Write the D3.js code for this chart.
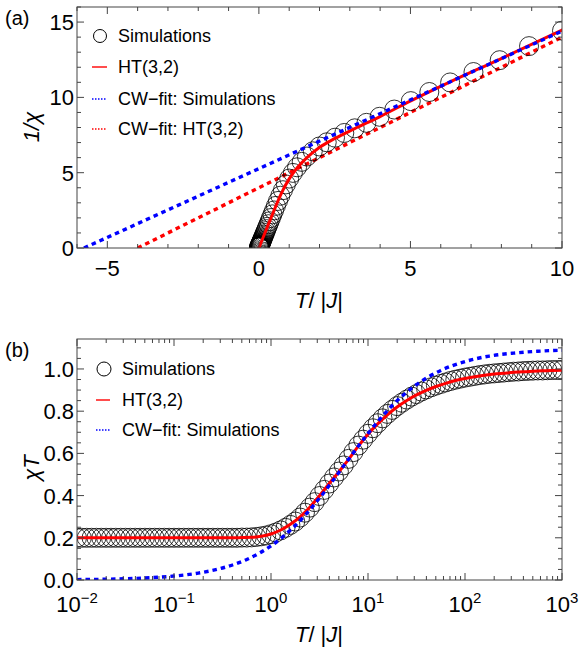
<!DOCTYPE html>
<html><head><meta charset="utf-8">
<script src="https://cdn.jsdelivr.net/npm/d3@7"></script>
<style>
body{margin:0;background:#fff}
text{font-family:"Liberation Sans",Arial,Helvetica,sans-serif;fill:#000}
</style>
</head><body>
<svg id="chart" width="582" height="650"></svg>
<script>
// ---------------- DATA ----------------
// simulation temperatures: 20 points per decade, log10(T) from -2 to 3
const simLogT = d3.range(-40, 61).map(k => k / 20);
// chi*T from the simulations
const simChiT = [
  0.200,0.200,0.200,0.200,0.200,0.200,0.200,0.200,0.200,0.200,
  0.200,0.200,0.200,0.200,0.200,0.200,0.200,0.200,0.200,0.200,
  0.200,0.200,0.200,0.200,0.200,0.200,0.200,0.200,0.200,0.200,
  0.200,0.200,0.200,0.200,0.201,0.201,0.202,0.204,0.207,0.211,
  0.217,0.225,0.235,0.247,0.261,0.277,0.296,0.319,0.343,0.369,
  0.398,0.427,0.457,0.486,0.514,0.543,0.574,0.606,0.637,0.665,
  0.693,0.719,0.743,0.766,0.787,0.806,0.824,0.840,0.855,0.869,
  0.881,0.893,0.903,0.913,0.921,0.929,0.936,0.943,0.949,0.954,
  0.959,0.963,0.967,0.971,0.974,0.977,0.979,0.981,0.983,0.985,
  0.987,0.988,0.990,0.991,0.992,0.993,0.993,0.994,0.995,0.995,
  0.996
];
// HT(3,2) curve, log10(T) in steps of 0.1
const htLogT = d3.range(-20, 31).map(k => k / 10);
const htChiT = [
  0.200,0.200,0.200,0.200,0.200,0.200,0.200,0.200,0.200,0.200,
  0.200,0.200,0.200,0.200,0.200,0.200,0.200,0.201,0.202,0.207,
  0.218,0.237,0.264,0.299,0.345,0.399,0.457,0.513,0.572,0.634,
  0.691,0.740,0.783,0.820,0.851,0.877,0.899,0.917,0.932,0.945,
  0.955,0.963,0.970,0.976,0.980,0.984,0.987,0.989,0.991,0.993,
  0.994
];
// Curie-Weiss fit to simulations, chi*T, log10(T) in steps of 0.25
const cwLogT = [-2,-1.75,-1.5,-1.25,-1,-0.75,-0.5,-0.25,0,0.25,0.5,0.75,1,1.25,1.5,1.75,2,2.25,2.5,2.75,3];
const cwChiT = [0.0019,0.0034,0.0060,0.0106,0.0187,0.0327,0.0569,0.0973,0.1617,0.258,0.388,0.541,0.694,0.827,0.926,0.993,1.035,1.061,1.075,1.084,1.089];
// Curie-Weiss lines in panel (a): 1/chi vs T
const cwSimT = [-5.77, 10];
const cwSimInv = [0, 14.4];
const cwHtT = [-4.0, 10];
const cwHtInv = [0, 14.0];
// tick labels
const aXTicks = [-5, 0, 5, 10];
const aYTicks = [0, 5, 10, 15];
const bXTickExp = [-2, -1, 0, 1, 2, 3];
const bYTicks = [0, 0.2, 0.4, 0.6, 0.8, 1.0];
const legendA = ["Simulations", "HT(3,2)", "CW\u2212fit: Simulations", "CW\u2212fit: HT(3,2)"];
const legendB = ["Simulations", "HT(3,2)", "CW\u2212fit: Simulations"];

// ---------------- LAYOUT ----------------
const svg = d3.select("#chart");
const L = 77, R = 562;
const A = {top: 7, bottom: 248};
const B = {top: 339, bottom: 580};
const RED = "#ff0000", BLUE = "#0000ff";
const FRAME = "#444";

function frameTicks(g, scale, orient, vals, size, x0, y0) {
  vals.forEach(v => {
    const p = scale(v);
    if (orient === "bottom") g.append("line").attr("x1", p).attr("x2", p).attr("y1", y0).attr("y2", y0 - size);
    if (orient === "top") g.append("line").attr("x1", p).attr("x2", p).attr("y1", y0).attr("y2", y0 + size);
    if (orient === "left") g.append("line").attr("y1", p).attr("y2", p).attr("x1", x0).attr("x2", x0 + size);
    if (orient === "right") g.append("line").attr("y1", p).attr("y2", p).attr("x1", x0).attr("x2", x0 - size);
  });
}

// ---------------- PANEL A ----------------
const xa = d3.scaleLinear().domain([-6, 10]).range([L, R]);
const ya = d3.scaleLinear().domain([0, 16]).range([A.bottom, A.top]);

svg.append("clipPath").attr("id", "clipA").append("rect")
  .attr("x", L).attr("y", A.top).attr("width", R - L).attr("height", A.bottom - A.top);
const ga = svg.append("g").attr("clip-path", "url(#clipA)");

const lineA = d3.line().x(d => xa(d[0])).y(d => ya(d[1]));
// CW fit to HT (red dotted)
ga.append("path").datum(cwHtT.map((t, i) => [t, cwHtInv[i]]))
  .attr("d", lineA).attr("fill", "none").attr("stroke", RED).attr("stroke-width", 3.4).attr("stroke-dasharray", "4.5,4");

// simulation circles
const simA = simLogT.map((lt, i) => { const T = Math.pow(10, lt); return [T, T / simChiT[i]]; })
  .filter(d => d[0] <= 11);
ga.selectAll("circle.sim").data(simA).join("circle")
  .attr("cx", d => xa(d[0])).attr("cy", d => ya(d[1])).attr("r", 9.5)
  .attr("fill", "none").attr("stroke", "#000").attr("stroke-width", 0.8);

// HT solid
const htA = [[0, 0]].concat(htLogT.map((lt, i) => { const T = Math.pow(10, lt); return [T, T / htChiT[i]]; })
  .filter(d => d[0] <= 13));
ga.append("path").datum(htA)
  .attr("d", d3.line().x(d => xa(d[0])).y(d => ya(d[1])).curve(d3.curveMonotoneX))
  .attr("fill", "none").attr("stroke", RED).attr("stroke-width", 3);

// CW fit to simulations (blue dotted) on top
ga.append("path").datum(cwSimT.map((t, i) => [t, cwSimInv[i]]))
  .attr("d", lineA).attr("fill", "none").attr("stroke", BLUE).attr("stroke-width", 3.4).attr("stroke-dasharray", "4.5,4");

// frame A
const fa = svg.append("g").attr("stroke", FRAME).attr("stroke-width", 1);
fa.append("rect").attr("x", L).attr("y", A.top).attr("width", R - L).attr("height", A.bottom - A.top).attr("fill", "none");
const aXMinor = d3.range(-6, 11).filter(v => aXTicks.indexOf(v) < 0);
const aYMinor = d3.range(0, 17).filter(v => aYTicks.indexOf(v) < 0);
frameTicks(fa, xa, "bottom", aXTicks, 7, 0, A.bottom);
frameTicks(fa, xa, "bottom", aXMinor, 4, 0, A.bottom);
frameTicks(fa, xa, "top", aXTicks, 7, 0, A.top);
frameTicks(fa, xa, "top", aXMinor, 4, 0, A.top);
frameTicks(fa, ya, "left", aYTicks, 7, L, 0);
frameTicks(fa, ya, "left", aYMinor, 4, L, 0);
frameTicks(fa, ya, "right", aYTicks, 7, R, 0);
frameTicks(fa, ya, "right", aYMinor, 4, R, 0);

svg.append("g").selectAll("text").data(aXTicks).join("text")
  .attr("x", d => xa(d)).attr("y", 276).attr("text-anchor", "middle").attr("font-size", 22)
  .text(d => d < 0 ? "\u2212" + Math.abs(d) : d);
svg.append("g").selectAll("text").data(aYTicks).join("text")
  .attr("x", 74).attr("y", d => ya(d)).attr("dy", "0.36em").attr("text-anchor", "end").attr("font-size", 22)
  .text(d => d);

// axis titles A
const tA = svg.append("text").attr("x", 319).attr("y", 308).attr("text-anchor", "middle").attr("font-size", 22);
tA.append("tspan").attr("font-style", "italic").text("T");
tA.append("tspan").text("/ |");
tA.append("tspan").attr("font-style", "italic").text("J");
tA.append("tspan").text("|");
const yA = svg.append("text").attr("transform", "translate(39,127) rotate(-90)").attr("text-anchor", "middle").attr("font-size", 22).attr("font-style", "italic");
yA.append("tspan").text("1/");
yA.append("tspan").text("\u03c7");
svg.append("text").attr("x", 5).attr("y", 25).attr("font-size", 20).text("(a)");

// legend A
const legA = svg.append("g");
const legAy = [36, 67, 99, 129];
legA.append("circle").attr("cx", 100).attr("cy", legAy[0]).attr("r", 6.5).attr("fill", "none").attr("stroke", "#000").attr("stroke-width", 1);
legA.append("line").attr("x1", 92).attr("x2", 107).attr("y1", legAy[1]).attr("y2", legAy[1]).attr("stroke", RED).attr("stroke-width", 1.4);
legA.append("line").attr("x1", 92).attr("x2", 107).attr("y1", legAy[2]).attr("y2", legAy[2]).attr("stroke", BLUE).attr("stroke-width", 1.4).attr("stroke-dasharray", "1.5,1.5");
legA.append("line").attr("x1", 92).attr("x2", 107).attr("y1", legAy[3]).attr("y2", legAy[3]).attr("stroke", RED).attr("stroke-width", 1.4).attr("stroke-dasharray", "1.5,1.5");
legA.selectAll("text").data(legendA).join("text")
  .attr("x", 118).attr("y", (d, i) => legAy[i]).attr("dy", "0.36em").attr("font-size", 18).text(d => d);

// ---------------- PANEL B ----------------
const xb = d3.scaleLog().domain([1e-2, 1e3]).range([L, R]);
const yb = d3.scaleLinear().domain([0, 1.142]).range([B.bottom, B.top]);

svg.append("clipPath").attr("id", "clipB").append("rect")
  .attr("x", L).attr("y", B.top).attr("width", R - L).attr("height", B.bottom - B.top);
const gb = svg.append("g").attr("clip-path", "url(#clipB)");

gb.selectAll("circle").data(simLogT.map((lt, i) => [Math.pow(10, lt), simChiT[i]])).join("circle")
  .attr("cx", d => xb(d[0])).attr("cy", d => yb(d[1])).attr("r", 9.5)
  .attr("fill", "none").attr("stroke", "#000").attr("stroke-width", 0.8);

gb.append("path").datum(htLogT.map((lt, i) => [lt, htChiT[i]]))
  .attr("d", d3.line().x(d => xb(Math.pow(10, d[0]))).y(d => yb(d[1])).curve(d3.curveMonotoneX))
  .attr("fill", "none").attr("stroke", RED).attr("stroke-width", 3);

gb.append("path").datum(cwLogT.map((lt, i) => [lt, cwChiT[i]]))
  .attr("d", d3.line().x(d => xb(Math.pow(10, d[0]))).y(d => yb(d[1])).curve(d3.curveMonotoneX))
  .attr("fill", "none").attr("stroke", BLUE).attr("stroke-width", 3.4).attr("stroke-dasharray", "4.5,4");

// frame B
const fb = svg.append("g").attr("stroke", FRAME).attr("stroke-width", 1);
fb.append("rect").attr("x", L).attr("y", B.top).attr("width", R - L).attr("height", B.bottom - B.top).attr("fill", "none");
const bXMajor = bXTickExp.map(e => Math.pow(10, e));
const bXMinor = [];
bXTickExp.slice(0, -1).forEach(e => { for (let m = 2; m <= 9; m++) bXMinor.push(m * Math.pow(10, e)); });
const bYMinor = d3.range(0, 23).map(k => k * 0.05).filter(v => Math.abs(v * 5 - Math.round(v * 5)) > 1e-6);
frameTicks(fb, xb, "bottom", bXMajor, 7, 0, B.bottom);
frameTicks(fb, xb, "bottom", bXMinor, 4, 0, B.bottom);
frameTicks(fb, xb, "top", bXMajor, 7, 0, B.top);
frameTicks(fb, xb, "top", bXMinor, 4, 0, B.top);
const bYMajorAll = d3.range(0, 6).map(k => k * 0.2);
frameTicks(fb, yb, "left", bYMajorAll, 7, L, 0);
frameTicks(fb, yb, "left", bYMinor, 4, L, 0);
frameTicks(fb, yb, "right", bYMajorAll, 7, R, 0);
frameTicks(fb, yb, "right", bYMinor, 4, R, 0);

const bxl = svg.append("g").selectAll("text").data(bXTickExp).join("text")
  .attr("x", d => xb(Math.pow(10, d))).attr("y", 612).attr("text-anchor", "middle").attr("font-size", 22);
bxl.append("tspan").text("10");
bxl.append("tspan").attr("dy", -9).attr("font-size", 15).text(d => d < 0 ? "\u2212" + Math.abs(d) : d);
svg.append("g").selectAll("text").data(bYTicks).join("text")
  .attr("x", 74).attr("y", d => yb(d)).attr("dy", "0.36em").attr("text-anchor", "end").attr("font-size", 22)
  .text(d => d.toFixed(1));

const tB = svg.append("text").attr("x", 319).attr("y", 642).attr("text-anchor", "middle").attr("font-size", 22);
tB.append("tspan").attr("font-style", "italic").text("T");
tB.append("tspan").text("/ |");
tB.append("tspan").attr("font-style", "italic").text("J");
tB.append("tspan").text("|");
const yB = svg.append("text").attr("transform", "translate(39,468) rotate(-90)").attr("text-anchor", "middle").attr("font-size", 22);
yB.append("tspan").attr("font-style", "italic").text("\u03c7T");
svg.append("text").attr("x", 5).attr("y", 357).attr("font-size", 20).text("(b)");

const legB = svg.append("g");
const legBy = [369, 400, 430];
legB.append("circle").attr("cx", 104).attr("cy", legBy[0]).attr("r", 7).attr("fill", "none").attr("stroke", "#000").attr("stroke-width", 1);
legB.append("line").attr("x1", 96).attr("x2", 110).attr("y1", legBy[1]).attr("y2", legBy[1]).attr("stroke", RED).attr("stroke-width", 1.4);
legB.append("line").attr("x1", 96).attr("x2", 110).attr("y1", legBy[2]).attr("y2", legBy[2]).attr("stroke", BLUE).attr("stroke-width", 1.4).attr("stroke-dasharray", "1.5,1.5");
legB.selectAll("text").data(legendB).join("text")
  .attr("x", 122).attr("y", (d, i) => legBy[i]).attr("dy", "0.36em").attr("font-size", 18).text(d => d);
</script>
</body></html>
